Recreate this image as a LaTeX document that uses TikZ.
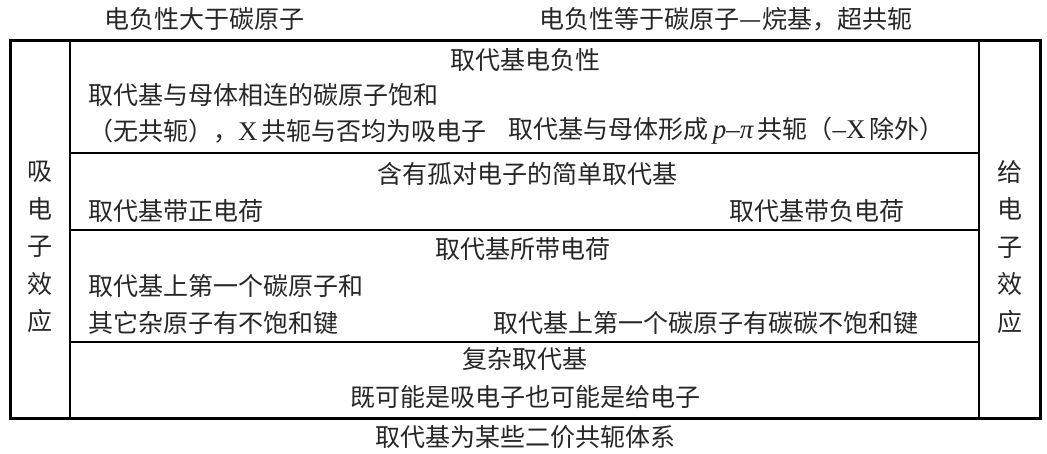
\documentclass[tikz,border=0pt]{standalone}
\usepackage{fontspec}
\setmainfont{Liberation Serif}
\newfontfamily\cjk{Noto Sans CJK SC}
\definecolor{textgray}{HTML}{262626}
\begin{document}
\begin{tikzpicture}[x=1pt,y=-1pt,
  txt/.style={inner sep=0pt, font=\cjk\fontsize{25}{37.5}\selectfont, text=textgray},
  lat/.style={},
  frame/.style={line width=3pt},
  rule/.style={line width=2.8pt}]
\useasboundingbox (0,0) rectangle (1047,454);
% table frame
\draw[frame] (10,41) rectangle (1040,418);
\draw[rule] (70,41) -- (70,418);
\draw[rule] (979,41) -- (979,418);
\draw[rule] (70,153) -- (979,153);
\draw[rule] (70,230) -- (979,230);
\draw[rule] (70,342) -- (979,342);
% top labels
\node[txt] (t1) at (204,19) {电负性大于碳原子};
\node[txt] (t2) at (726,19) {电负性等于碳原子—烷基，超共轭};
% row 1
\node[txt] (h1) at (525,60) {取代基电负性};
\node[txt,anchor=west] (a1) at (88,95) {取代基与母体相连的碳原子饱和};
\node[txt,anchor=west] (a2) at (88,131) {（无共轭），{\rmfamily\fontsize{27}{30}\selectfont X}\,共轭与否均为吸电子};
\node[txt,anchor=east] (b1) at (945,131) {取代基与母体形成\,{\rmfamily\itshape\fontsize{27}{30}\selectfont p–π}\,共轭（{\rmfamily\fontsize{27}{30}\selectfont –X}\,除外）};
% row 2
\node[txt] (h2) at (527,174) {含有孤对电子的简单取代基};
\node[txt,anchor=west] (a3) at (88,211) {取代基带正电荷};
\node[txt,anchor=east] (b2) at (905,211) {取代基带负电荷};
% row 3
\node[txt] (h3) at (523,249) {取代基所带电荷};
\node[txt,anchor=west] (a4) at (88,286) {取代基上第一个碳原子和};
\node[txt,anchor=west] (a5) at (88,323) {其它杂原子有不饱和键};
\node[txt,anchor=east] (b3) at (919,323) {取代基上第一个碳原子有碳碳不饱和键};
% row 4
\node[txt] (h4) at (525,359) {复杂取代基};
\node[txt] (c1) at (525,397) {既可能是吸电子也可能是给电子};
% bottom label
\node[txt] (t3) at (525,437) {取代基为某些二价共轭体系};
% side columns
\node[txt,align=center] (L) at (40,247) {吸\\电\\子\\效\\应};
\node[txt,align=center] (R) at (1010,247) {给\\电\\子\\效\\应};
\end{tikzpicture}
\end{document}
